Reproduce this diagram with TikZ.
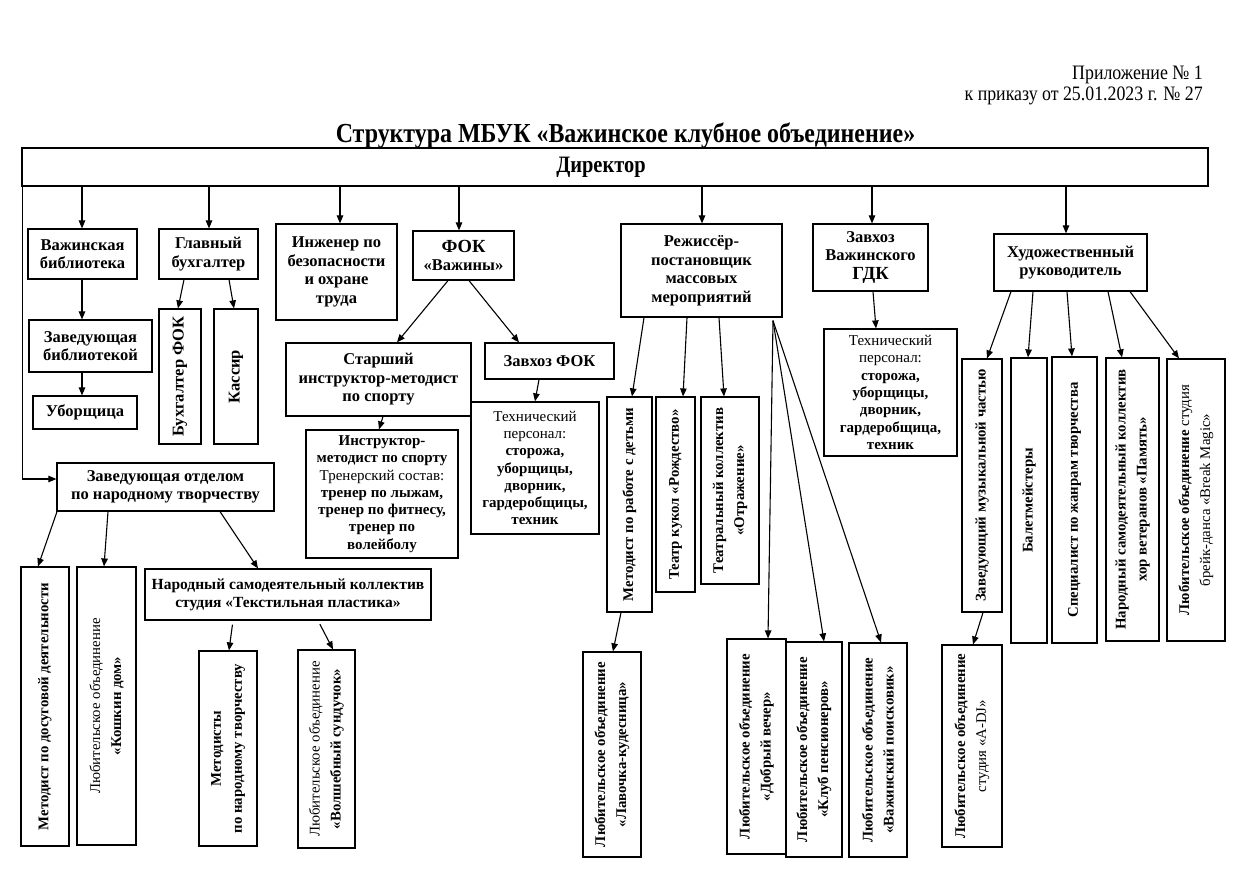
\documentclass[tikz,border=0pt]{standalone}
\usepackage{fontspec}
\setmainfont{Liberation Serif}
\newfontfamily\condfont{Liberation Serif}[FakeStretch=0.87]
\usetikzlibrary{arrows.meta,calc}
\tikzset{
  box/.style={draw, line width=1.2pt, inner sep=0pt, align=center,
    font=\fontsize{16.5}{18.5}\selectfont\bfseries},
  lst/.style={font=\fontsize{15}{17.3}\selectfont\bfseries},
  vt/.style={rotate=90, align=center, inner sep=0pt,
    font=\fontsize{14.8}{21}\selectfont\bfseries},
  big/.style={font=\fontsize{16.5}{18.5}\selectfont\bfseries},
  arr/.style={-{Triangle[length=8pt,width=6.5pt]}, line width=1.1pt},
}
\newcommand\bx[7][]{\node[box,#1,minimum width={(#5-#3)*1pt},minimum height={(#6-#4)*1pt}] (#2) at ({(#3+#5)/2},{(#4+#6)/2}) {#7};}
\newcommand\vb[7][]{\node[box,minimum width={(#5-#3)*1pt},minimum height={(#6-#4)*1pt}] (#2) at ({(#3+#5)/2},{(#4+#6)/2}) {};
  \node[vt,#1] (#2t) at (#2.center) {#7};}
\begin{document}
\begin{tikzpicture}[x=1pt,y=-1pt]
\useasboundingbox (0,0) rectangle (1242,871);
\fill[white] (0,0) rectangle (1242,871);
% header
\node[anchor=east,inner sep=0pt,font=\condfont\fontsize{20.5}{23}\selectfont] (h1) at (1203,75) {Приложение № 1};
\node[anchor=east,inner sep=0pt,font=\condfont\fontsize{20.5}{23}\selectfont] (h2) at (1203,96) {к приказу от 25.01.2023 г. № 27};
\node[inner sep=0pt,font=\condfont\bfseries\fontsize{27.5}{30}\selectfont] (title) at (625.5,136) {Структура МБУК «Важинское клубное объединение»};
% director
\node[draw,line width=1.2pt,inner sep=0pt,minimum width=1186pt,minimum height=38pt] (dir) at (615,167) {};
\node[inner sep=0pt,font=\condfont\bfseries\fontsize{23.5}{26}\selectfont] (dirt) at (601,167) {Директор};
% left branch
\bx{lib}{28}{229}{137}{279}{Важинская\\библиотека}
\bx{zlib}{29}{320}{152}{372}{Заведующая\\библиотекой}
\bx{ub}{33}{396}{137}{429}{Уборщица}
\bx{gb}{159}{229}{258}{279}{Главный\\бухгалтер}
\vb[big]{bf}{159}{309}{201}{444}{Бухгалтер ФОК}
\vb[big]{kas}{214}{309}{258}{444}{Кассир}
\bx{ing}{276}{224}{397}{320}{Инженер по\\безопасности\\и охране\\труда}
\bx{fok}{413}{231}{514}{280}{{\fontsize{18.5}{20}\selectfont ФОК}\\«Важины»}
\bx{sim}{286}{343}{471}{416}{Старший\\инструктор-методист\\по спорту}
\bx{zf}{485}{343}{614}{379}{Завхоз ФОК}
\bx[lst]{im}{306}{430}{458}{558}{Инструктор-\\методист по спорту\\{\mdseries Тренерский состав:}\\тренер по лыжам,\\тренер по фитнесу,\\тренер по\\волейболу}
\bx[lst]{tf}{471}{402}{599}{534}{{\mdseries Технический}\\{\mdseries персонал:}\\сторожа,\\уборщицы,\\дворник,\\гардеробщицы,\\техник}
\bx{rej}{621}{224}{782}{317}{Режиссёр-\\постановщик\\массовых\\мероприятий}
\bx{zg}{813}{224}{928}{291}{Завхоз\\Важинского\\{\fontsize{18.5}{20}\selectfont ГДК}}
\bx[lst]{tg}{824}{329}{957}{456}{{\mdseries Технический}\\{\mdseries персонал:}\\сторожа,\\уборщицы,\\дворник,\\гардеробщица,\\техник}
\bx{hr}{994}{234}{1147}{291}{Художественный\\руководитель}
\bx{zo}{57}{463}{274}{511}{Заведующая отделом\\по народному творчеству}
\bx[font=\fontsize{15.5}{18}\selectfont\bfseries]{tp}{145}{569}{431}{620}{Народный самодеятельный коллектив\\студия «Текстильная пластика»}
% vertical boxes
\vb{mdd}{21}{567}{69}{846}{Методист по досуговой деятельности}
\vb{kd}{77}{567}{136}{845}{{\mdseries Любительское объединение}\\«Кошкин дом»}
\vb{mnt}{199}{651}{257}{846}{Методисты\\по народному творчеству}
\vb{vs}{298}{650}{355}{848}{{\mdseries Любительское объединение}\\«Волшебный сундучок»}
\vb{md}{607}{397}{652}{612}{Методист по работе с детьми}
\vb{tk}{656}{397}{695}{592}{Театр кукол «Рождество»}
\vb{tko}{701}{397}{759}{584}{Театральный коллектив\\«Отражение»}
\vb{lav}{583}{652}{641}{857}{Любительское объединение\\«Лавочка-кудесница»}
\vb{dv}{727}{639}{786}{854}{Любительское объединение\\«Добрый вечер»}
\vb{kp}{786}{642}{842}{857}{Любительское объединение\\«Клуб пенсионеров»}
\vb{vp}{849}{643}{907}{857}{Любительское объединение\\«Важинский поисковик»}
\vb{zm}{962}{359}{1002}{612}{Заведующий музыкальной частью}
\vb{adj}{942}{645}{1002}{847}{Любительское объединение\\{\mdseries студия «A-DJ»}}
\vb{bal}{1011}{358}{1047}{643}{Балетмейстеры}
\vb{sp}{1052}{357}{1097}{643}{Специалист по жанрам творчества}
\vb{pam}{1106}{358}{1159}{641}{Народный самодеятельный коллектив\\хор ветеранов «Память»}
\vb{bm}{1167}{359}{1225}{641}{Любительское объединение {\mdseries студия}\\{\mdseries брейк-данса «Break Magic»}}
% connectors from director
\draw[arr] ([xshift=1pt]dir.south west) |- ([yshift=8pt]zo.west);
\draw[arr] (dir.south -| 82,0) -- (lib.north -| 82,0);
\draw[arr] (dir.south -| 209,0) -- (gb.north -| 209,0);
\draw[arr] (dir.south -| 340,0) -- (ing.north -| 340,0);
\draw[arr] (dir.south -| 459,0) -- (fok.north -| 459,0);
\draw[arr] (dir.south -| 702,0) -- (rej.north -| 702,0);
\draw[arr] (dir.south -| 872,0) -- (zg.north -| 872,0);
\draw[arr] (dir.south -| 1066,0) -- (hr.north -| 1066,0);
% library
\draw[arr] (lib.south -| 82,0) -- (zlib.north -| 82,0);
\draw[arr] (zlib.south -| 82,0) -- (ub.north -| 82,0);
% accountant
\draw[arr] (gb.south -| 184,0) -- (bf.north -| 178,0);
\draw[arr] (gb.south -| 229,0) -- (kas.north -| 234,0);
% FOK
\draw[arr] (fok.south -| 448,0) -- (sim.north -| 397,0);
\draw[arr] (fok.south -| 469,0) -- (zf.north -| 519,0);
\draw[arr] (sim.south -| 383,0) -- (im.north -| 379,0);
\draw[arr] (zf.south -| 539,0) -- (tf.north -| 535,0);
% director of events
\draw[arr] (rej.south -| 644,0) -- (md.north -| 632,0);
\draw[arr] (rej.south -| 687,0) -- (tk.north -| 683,0);
\draw[arr] (rej.south -| 719,0) -- (tko.north -| 724,0);
\draw[arr] ([yshift=-3pt]rej.south -| 773,0) -- (dv.north -| 768,0);
\draw[arr] ([yshift=-3pt]rej.south -| 773,0) -- (kp.north -| 824,0);
\draw[arr] ([yshift=-3pt]rej.south -| 773,0) -- (vp.north -| 881,0);
\draw[arr] (md.south -| 621,0) -- (lav.north -| 613,0);
% GDK
\draw[arr] (zg.south -| 873,0) -- (tg.north -| 876,0);
% art director
\draw[arr] (hr.south -| 1011,0) -- (zm.north -| 987,0);
\draw[arr] (hr.south -| 1033,0) -- (bal.north -| 1028,0);
\draw[arr] (hr.south -| 1067,0) -- (sp.north -| 1072,0);
\draw[arr] (hr.south -| 1108,0) -- (pam.north -| 1122,0);
\draw[arr] (hr.south -| 1130,0) -- (bm.north -| 1179,0);
\draw[arr] (zm.south -| 983,0) -- (adj.north -| 973,0);
% folk art
\draw[arr] (zo.south -| 57,0) -- (mdd.north -| 38,0);
\draw[arr] (zo.south -| 108,0) -- (kd.north -| 104,0);
\draw[arr] (zo.south -| 220,0) -- (tp.north -| 258,0);
\draw[arr,shorten <=4pt] (tp.south -| 233,0) -- (mnt.north -| 229,0);
\draw[arr,shorten <=4pt] (tp.south -| 318,0) -- (vs.north -| 333,0);
\end{tikzpicture}
\end{document}
